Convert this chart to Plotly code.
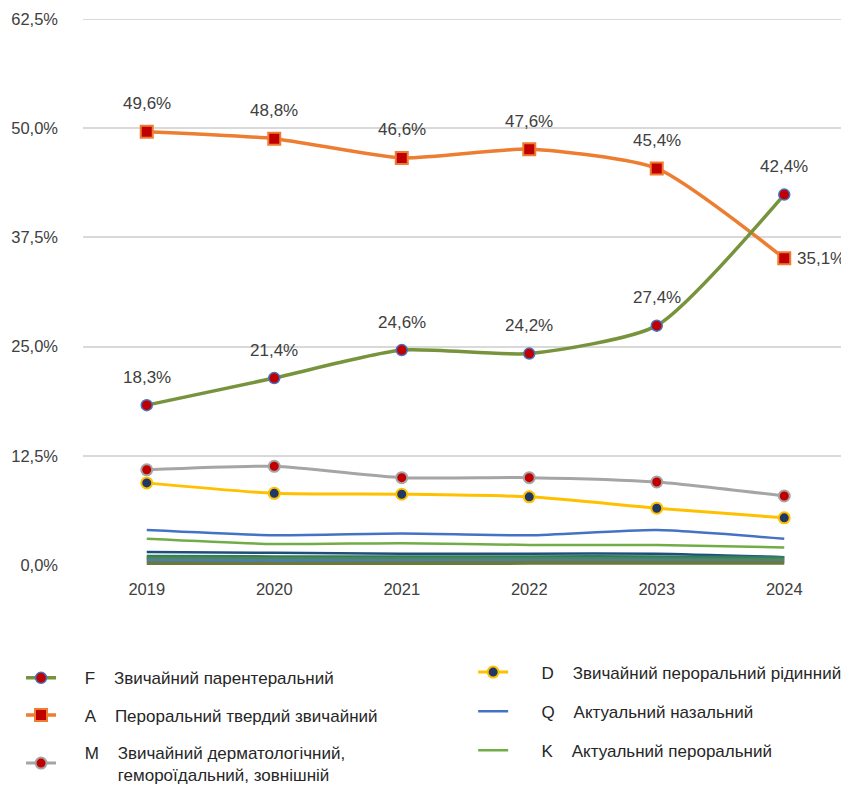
import plotly.graph_objects as go

years = [2019, 2020, 2021, 2022, 2023, 2024]

F_vals = [18.3, 21.4, 24.6, 24.2, 27.4, 42.4]
A_vals = [49.6, 48.8, 46.6, 47.6, 45.4, 35.1]
M_vals = [10.9, 11.3, 10.0, 10.0, 9.5, 7.9]
D_vals = [9.4, 8.2, 8.1, 7.8, 6.5, 5.4]
Q_vals = [4.0, 3.4, 3.6, 3.4, 4.0, 3.0]
K_vals = [3.0, 2.4, 2.5, 2.3, 2.3, 2.0]
other1_vals = [1.5, 1.4, 1.3, 1.3, 1.3, 0.9]
other2_vals = [0.95, 0.9, 0.9, 0.9, 0.9, 0.8]
other3_vals = [0.75, 0.7, 0.7, 0.7, 0.65, 0.6]
other4_vals = [0.5, 0.45, 0.45, 0.45, 0.45, 0.4]
other5_vals = [0.2, 0.15, 0.2, 0.25, 0.25, 0.25]

ytick_vals = [0, 12.5, 25, 37.5, 50, 62.5]
ytick_text = ["0,0%", "12,5%", "25,0%", "37,5%", "50,0%", "62,5%"]
xtick_text = ["2019", "2020", "2021", "2022", "2023", "2024"]

NB = "\u00a0"
F_name = NB * 5 + "F" + NB * 4 + "Звичайний парентеральний"
A_name = NB * 5 + "A" + NB * 4 + "Пероральний твердий звичайний"
M_name = (NB * 5 + "M" + NB * 4 + "Звичайний дерматологічний,<br>"
          + NB * 12 + "гемороїдальний, зовнішній")
D_name = NB * 6 + "D" + NB * 4 + "Звичайний пероральний рідинний"
Q_name = NB * 6 + "Q" + NB * 4 + "Актуальний назальний"
K_name = NB * 6 + "K" + NB * 4 + "Актуальний пероральний"

FONT = "Liberation Sans, Arial, sans-serif"
GRID = "#D9D9D9"

fig = go.Figure()

# small unlabeled series (drawn underneath)
for vals, col, w in [
    (other1_vals, "#1F4E79", 2.5),
    (other2_vals, "#2E7A6B", 4),
    (other3_vals, "#4E8A3A", 4),
    (other4_vals, "#4A7EBB", 4),
    (other5_vals, "#6B7A38", 4),
]:
    fig.add_trace(go.Scatter(x=years, y=vals, mode="lines", showlegend=False,
                             line=dict(color=col, width=w, shape="spline", smoothing=0.6),
                             hoverinfo="skip"))

fig.add_trace(go.Scatter(x=years, y=K_vals, name=K_name, mode="lines",
                         line=dict(color="#70AD47", width=2.5, shape="spline", smoothing=0.6),
                         legend="legend2", legendgroup="k", legendrank=3))
fig.add_trace(go.Scatter(x=years, y=Q_vals, name=Q_name, mode="lines",
                         line=dict(color="#4472C4", width=2.5, shape="spline", smoothing=0.6),
                         legend="legend2", legendgroup="q", legendrank=2))
fig.add_trace(go.Scatter(x=years, y=D_vals, name=D_name, mode="lines+markers",
                         line=dict(color="#FFC000", width=3, shape="spline", smoothing=0.6),
                         marker=dict(symbol="circle", size=11, color="#203864",
                                     line=dict(color="#FFC000", width=2)),
                         legend="legend2", legendgroup="d", legendrank=1))
fig.add_trace(go.Scatter(x=years, y=M_vals, name=M_name, mode="lines+markers",
                         line=dict(color="#A5A5A5", width=3, shape="spline", smoothing=0.6),
                         marker=dict(symbol="circle", size=11, color="#C00000",
                                     line=dict(color="#A5A5A5", width=2)),
                         legend="legend", legendgroup="m", legendrank=3))
fig.add_trace(go.Scatter(x=years, y=A_vals, name=A_name, mode="lines+markers",
                         line=dict(color="#ED7D31", width=3.5, shape="spline", smoothing=0.6),
                         marker=dict(symbol="square", size=12, color="#C00000",
                                     line=dict(color="#ED7D31", width=2)),
                         legend="legend", legendgroup="a", legendrank=2))
fig.add_trace(go.Scatter(x=years, y=F_vals, name=F_name, mode="lines+markers",
                         line=dict(color="#77933C", width=3.5, shape="spline", smoothing=0.6),
                         marker=dict(symbol="circle", size=11, color="#C00000",
                                     line=dict(color="#4472C4", width=1.5)),
                         legend="legend", legendgroup="f", legendrank=1))


def fmt(v):
    return f"{v:.1f}%".replace(".", ",")


annotations = []
lab_font = dict(family=FONT, size=17, color="#404040")
for i, (yr, v) in enumerate(zip(years, A_vals)):
    if i == len(years) - 1:
        annotations.append(dict(x=yr, y=v, text=fmt(v), showarrow=False, xanchor="left",
                                xshift=11, font=lab_font))
    else:
        annotations.append(dict(x=yr, y=v, text=fmt(v), showarrow=False, yshift=28,
                                font=lab_font))
for yr, v in zip(years, F_vals):
    annotations.append(dict(x=yr, y=v, text=fmt(v), showarrow=False, yshift=28, font=lab_font))

legend_font = dict(family=FONT, size=17, color="#262626")

fig.update_layout(
    width=849, height=785,
    margin=dict(l=75, r=9, t=11, b=228, autoexpand=False),
    paper_bgcolor="white", plot_bgcolor="white",
    annotations=annotations,
    shapes=[dict(type="line", xref="paper", x0=0, x1=1, yref="y",
                 y0=ytick_vals[-1], y1=ytick_vals[-1], layer="below",
                 line=dict(color=GRID, width=2))],
    xaxis=dict(range=[2018.5, 2024.5], tickvals=years, ticktext=xtick_text,
               showgrid=False, showline=False, zeroline=False, ticks="",
               ticklabelstandoff=12,
               tickfont=dict(family=FONT, size=16.5, color="#404040")),
    yaxis=dict(range=[0, 62.5], tickvals=ytick_vals, ticktext=ytick_text,
               showgrid=True, gridcolor=GRID, gridwidth=2, zeroline=False,
               showline=False, ticks="", ticklabelstandoff=24,
               tickfont=dict(family=FONT, size=16.5, color="#404040")),
    legend=dict(x=-0.081, y=-0.1745, xanchor="left", yanchor="top", orientation="v",
                font=legend_font, tracegroupgap=12, traceorder="grouped",
                bgcolor="rgba(0,0,0,0)"),
    legend2=dict(x=0.51, y=-0.164, xanchor="left", yanchor="top", orientation="v",
                 font=legend_font, tracegroupgap=14, traceorder="grouped",
                 bgcolor="rgba(0,0,0,0)"),
)

fig.write_html("out.html")
